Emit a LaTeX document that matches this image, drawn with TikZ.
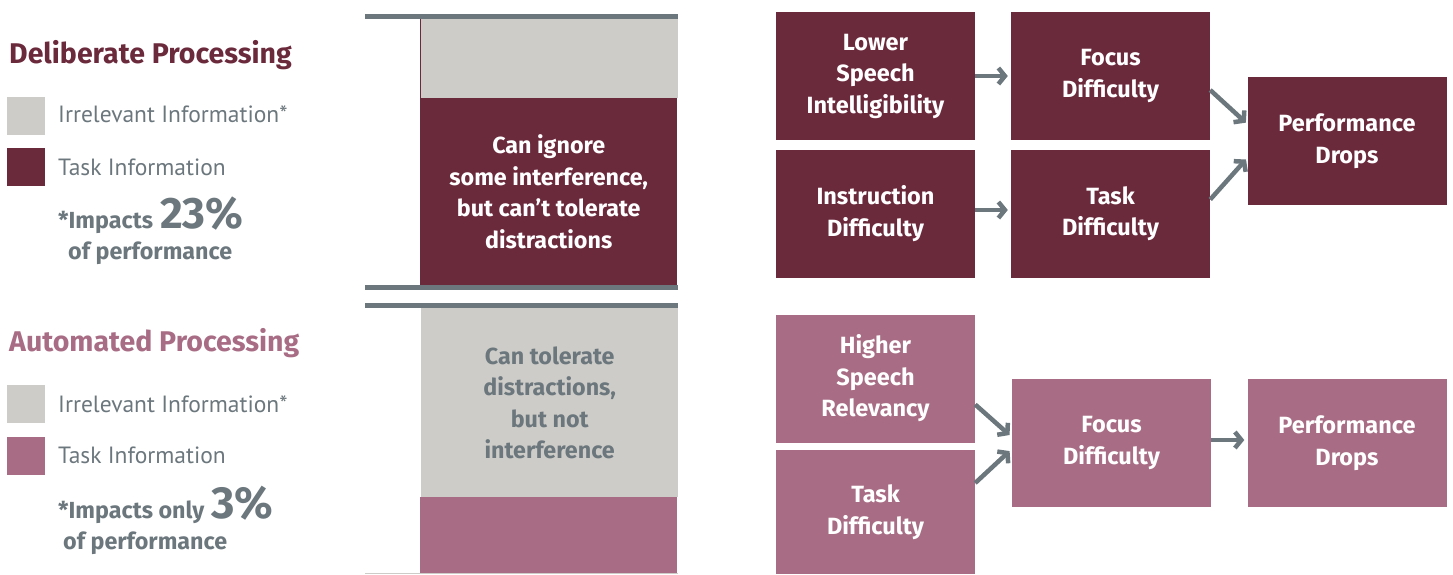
\documentclass[tikz,border=0pt]{standalone}
\usepackage{fontspec}
\setmainfont{PT Sans}
\newfontfamily\fira{Fira Sans}
\usetikzlibrary{arrows.meta}
\definecolor{maroon}{HTML}{6B293C}
\definecolor{rose}{HTML}{A86D84}
\definecolor{lgrey}{HTML}{CECCC8}
\definecolor{slate}{HTML}{6B777D}
\tikzset{
  box/.style={fill=#1, draw=none, inner sep=0pt, text=white, align=center,
    font=\fira\fontsize{23.5}{31.5}\selectfont\bfseries, minimum width=199pt, minimum height=128pt},
  sq/.style={fill=#1, draw=none, inner sep=0pt, minimum size=38pt},
  legend/.style={anchor=base west, inner sep=0pt, text=slate, font=\fontsize{23.5}{28}\selectfont},
  title/.style={anchor=base west, inner sep=0pt, text=#1, font=\fira\fontsize{28.5}{32}\selectfont\bfseries},
  note/.style={anchor=base west, inner sep=0pt, text=slate, font=\fira\fontsize{23.3}{26}\selectfont\bfseries},
  rule/.style={draw=slate, line width=4.5pt},
  arr/.style={draw=slate, line width=4.5pt, -{Straight Barb[length=6.5pt,width=16pt]}},
  colbox/.style={fill=#1, draw=none, inner sep=0pt, minimum width=257pt, align=center,
    font=\fira\fontsize{23.3}{31.5}\selectfont\bfseries}
}
\begin{document}
\begin{tikzpicture}[x=1pt,y=-1pt]
\useasboundingbox (0,0) rectangle (1453,574);
% ---------- left legend, deliberate ----------
\node[title=maroon] (t1) at (9,63) {Deliberate Processing};
\node[sq=lgrey] (s1) at (26,116) {};
\node[sq=maroon] (s2) at (26,167) {};
\node[legend] (l1) at (58,122) {Irrelevant Information*};
\node[legend] (l2) at (58,175) {Task Information};
\node[note] (i1) at (58,228) {*Impacts\hspace{7pt}{\fontsize{44}{48}\selectfont 23\%}};
\node[note] (p1) at (68,259) {of performance};
% ---------- left legend, automated ----------
\node[title=rose] (t2) at (9,351) {Automated Processing};
\node[sq=lgrey] (s3) at (26,404) {};
\node[sq=rose] (s4) at (26,456) {};
\node[legend] (l3) at (58,412) {Irrelevant Information*};
\node[legend] (l4) at (58,463) {Task Information};
\node[note] (i2) at (58,518) {*Impacts only\hspace{7pt}{\fontsize{45}{50}\selectfont 3\%}};
\node[note] (p2) at (63,549) {of performance};
% ---------- middle column ----------
\node[colbox=lgrey, minimum height=79pt, anchor=north west] (g1) at (421,19) {};
\draw[maroon, line width=0.8pt] (420.4,19) -- (420.4,98);
\node[colbox=maroon, minimum height=187pt, anchor=north west, text=white] (m1) at (420,98)
  {Can ignore\\some interference,\\but can’t tolerate\\distractions};
\node[colbox=lgrey, minimum height=189pt, anchor=north west, text=slate] (g2) at (421,308)
  {Can tolerate\\distractions,\\but not\\interference};
\node[colbox=rose, minimum height=76pt, anchor=north west] (r1) at (420,497) {};
\draw[rule] (365,16.5) -- (678,16.5);
\draw[rule] (365,287.5) -- (678,287.5);
\draw[rule] (365,305.5) -- (678,305.5);
\draw[draw=lgrey, line width=1pt] (365,573.5) -- (678,573.5);
% ---------- right, deliberate flow ----------
\node[box=maroon] (lsi) at (875.5,76) {Lower\\Speech\\Intelligibility};
\node[box=maroon] (fd1) at (1110.5,76) {Focus\\Difficulty};
\node[box=maroon] (id) at (875.5,213.5) {Instruction\\Difficulty};
\node[box=maroon] (td1) at (1110.5,213.5) {Task\\Difficulty};
\node[box=maroon] (pd1) at (1347,141) {Performance\\Drops};
\draw[arr, shorten >=3pt] (lsi.east) -- (fd1.west);
\draw[arr, shorten >=3pt] (id.east |- 0,210) -- (td1.west |- 0,210);
\draw[arr, shorten >=2pt] ([yshift=-14pt]fd1.east) -- ([yshift=17pt]pd1.west);
\draw[arr, shorten >=2pt] ([yshift=14pt]td1.east) -- ([yshift=-17pt]pd1.west);
% ---------- right, automated flow ----------
\node[box=rose] (hsr) at (875.5,378.5) {Higher\\Speech\\Relevancy};
\node[box=rose, minimum height=124pt] (td2) at (875.5,512) {Task\\Difficulty};
\node[box=rose] (fd2) at (1111.5,443) {Focus\\Difficulty};
\node[box=rose] (pd2) at (1347,443) {Performance\\Drops};
\draw[arr, shorten >=3pt] ([yshift=-26pt]hsr.east) -- ([yshift=6pt]fd2.west);
\draw[arr, shorten >=3pt] ([yshift=29pt]td2.east) -- ([yshift=-6pt]fd2.west);
\draw[arr, shorten >=3pt] (fd2.east |- 0,440) -- (pd2.west |- 0,440);
\end{tikzpicture}
\end{document}
